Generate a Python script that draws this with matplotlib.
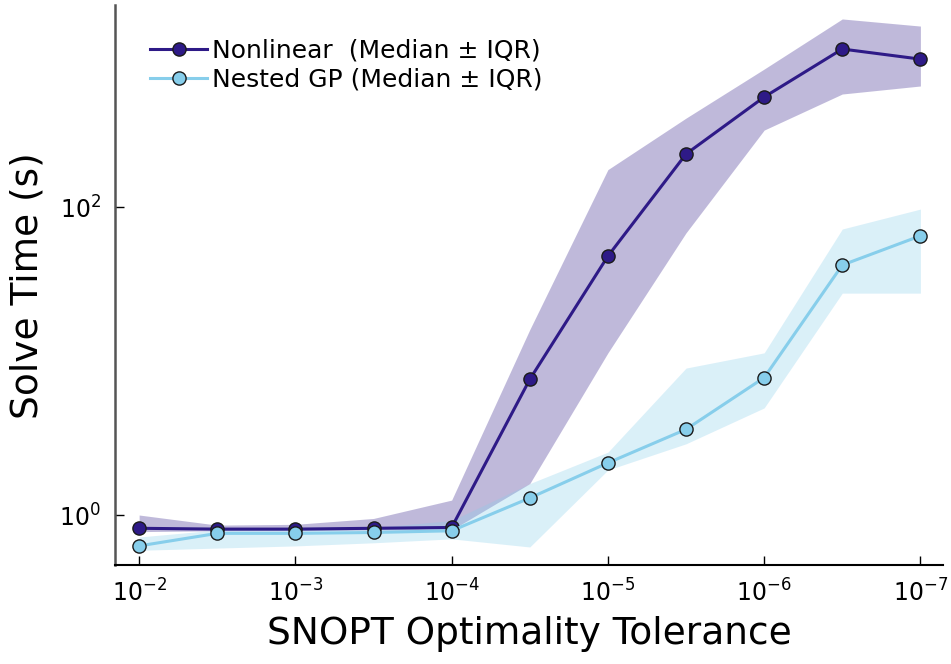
import numpy as np
import matplotlib
matplotlib.use("Agg")
import matplotlib.pyplot as plt

# SNOPT optimality tolerance (half-decade steps)
tol = [1e-2, 10**-2.5, 1e-3, 10**-3.5, 1e-4, 10**-4.5, 1e-5, 10**-5.5, 1e-6, 10**-6.5, 1e-7]

# Nonlinear: median and IQR band
nl_med = [0.82, 0.81, 0.81, 0.82, 0.83, 7.6, 48, 221, 518, 1062, 913]
nl_lo = [0.78, 0.79, 0.79, 0.80, 0.80, 1.6, 11.3, 68, 316, 542, 611]
nl_hi = [1.0, 0.86, 0.87, 0.95, 1.25, 16, 175, 378, 787, 1665, 1497]

# Nested GP: median and IQR band
gp_med = [0.63, 0.76, 0.76, 0.77, 0.79, 1.29, 2.18, 3.6, 7.8, 42, 65]
gp_lo = [0.59, 0.61, 0.63, 0.66, 0.70, 0.62, 1.96, 2.9, 4.96, 27.6, 27.6]
gp_hi = [0.72, 0.80, 0.81, 0.83, 0.92, 1.6, 2.56, 9.0, 11.3, 72, 97]

dark = "#2E1A87"
light = "#87CEEB"

fig = plt.figure(figsize=(9.51, 6.64), dpi=100)
ax = fig.add_axes([0.121, 0.149, 0.871, 0.843])

ax.fill_between(tol, nl_lo, nl_hi, color=dark, alpha=0.3, lw=0)
ax.fill_between(tol, gp_lo, gp_hi, color=light, alpha=0.3, lw=0)
ax.plot(tol, nl_med, color=dark, lw=2.2, marker="o", ms=9.5, mfc=dark,
        mec="#1a1a1a", mew=1.0, label="Nonlinear  (Median ± IQR)")
ax.plot(tol, gp_med, color=light, lw=2.2, marker="o", ms=9.5, mfc=light,
        mec="#1a1a1a", mew=1.0, label="Nested GP (Median ± IQR)")

ax.set_xscale("log")
ax.set_yscale("log")
ax.set_xlim(10**-1.846, 10**-7.147)
ax.set_ylim(10**-0.325, 10**3.31)
ax.set_xticks([1e-2, 1e-3, 1e-4, 1e-5, 1e-6, 1e-7])
ax.set_xticklabels([r"$10^{-2}$", r"$10^{-3}$", r"$10^{-4}$", r"$10^{-5}$",
                    r"$10^{-6}$", r"$10^{-7}$"])
ax.set_yticks([1, 100])
ax.set_yticklabels([r"$10^{0}$", r"$10^{2}$"])
ax.minorticks_off()
ax.tick_params(direction="in", length=6.5, width=1, labelsize=17, pad=10)

for s in ["top", "right"]:
    ax.spines[s].set_visible(False)
ax.spines["left"].set_color("#555555")
ax.spines["left"].set_linewidth(1.8)
ax.spines["bottom"].set_linewidth(1.5)

ax.set_xlabel("SNOPT Optimality Tolerance", fontsize=27, labelpad=7)
ax.set_ylabel("Solve Time (s)", fontsize=27, labelpad=10)

ax.legend(loc="upper left", bbox_to_anchor=(0.03, 0.958), frameon=False,
          fontsize=18, handlelength=2.3, handletextpad=0.2, labelspacing=0.2,
          borderaxespad=0)

fig.savefig("out.png", dpi=100)
